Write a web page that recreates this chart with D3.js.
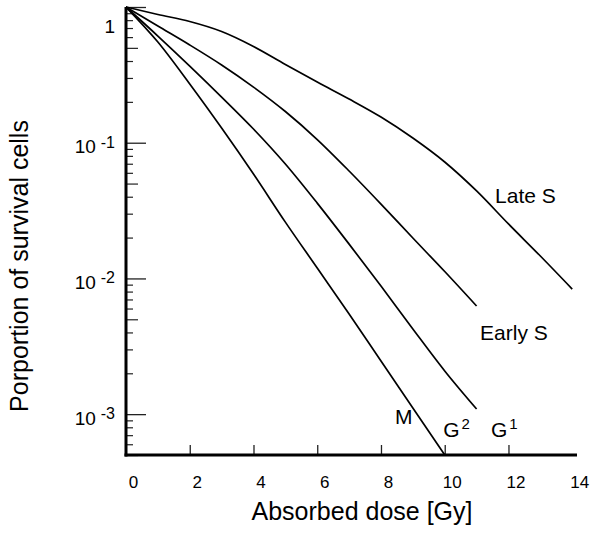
<!DOCTYPE html>
<html>
<head>
<meta charset="utf-8">
<script src="https://cdn.jsdelivr.net/npm/d3@7"></script>
<style>
  body { margin: 0; background: #fff; }
  svg { display: block; font-family: "Liberation Sans", Arial, sans-serif; }
</style>
</head>
<body>
<div id="chart"></div>
<script>
// dose values (Gy) and surviving fractions
var doses = [0, 1, 2, 3, 4, 5, 6, 7, 8, 9, 10, 11, 12, 13, 14];
var survLateS  = [1, 0.881, 0.782, 0.660, 0.512, 0.377, 0.280, 0.210, 0.1547, 0.1083, 0.0721, 0.0441, 0.0252, 0.01463, 0.00835];
var survEarlyS = [1, 0.724, 0.525, 0.374, 0.257, 0.1698, 0.1056, 0.0619, 0.0353, 0.01985, 0.01124, 0.00626];
var survG2     = [1, 0.611, 0.367, 0.217, 0.1262, 0.0697, 0.0359, 0.0179, 0.00879, 0.00424, 0.00208, 0.00109];
var survM      = [1, 0.552, 0.271, 0.1283, 0.0588, 0.026, 0.01193, 0.00547, 0.00246, 0.00111, 0.0005];

// curve labels (position in data units)
var labelNames = ["Late S", "Early S", "M", "G", "G"];
var labelSups  = ["", "", "", "2", "1"];
var labelDose  = [11.58, 11.11, 8.44, 9.95, 11.45];
var labelSurv  = [0.036, 0.00352, 0.000845, 0.000678, 0.000678];

// axis ticks
var xTickMarks  = [2, 4, 6, 8, 10, 12];
var xTickLabels = [0, 2, 4, 6, 8, 10, 12, 14];
var yMajorTicks = [1, 0.1, 0.01, 0.001];
var yTickBase   = ["1", "10", "10", "10"];
var yTickExp    = ["", "-1", "-2", "-3"];

var width = 590, height = 537;
var svg = d3.select("#chart").append("svg")
    .attr("width", width)
    .attr("height", height);

var x = d3.scaleLinear().domain([0, 14.15]).range([126, 577]);
var y = d3.scaleLog().domain([0.0005, 1]).range([455, 7]);

// y axis: minor, medium (5s) and major ticks all point inward
function mantissa(v) {
  return Math.round(v / Math.pow(10, Math.floor(Math.log10(v) + 1e-9)));
}
var allY = y.ticks();
var minorY = allY.filter(function(v) { return mantissa(v) !== 1 && mantissa(v) !== 5; });
var fiveY = allY.filter(function(v) { return mantissa(v) === 5; });

function styleTicks(g, w) {
  g.selectAll(".tick line").attr("stroke", "#222").attr("stroke-width", w);
  g.select(".domain").remove();
}

svg.append("g")
    .attr("transform", "translate(126,0)")
    .call(d3.axisLeft(y).tickValues(minorY).tickSize(-7).tickFormat(""))
    .call(styleTicks, 1.2);

svg.append("g")
    .attr("transform", "translate(126,0)")
    .call(d3.axisLeft(y).tickValues(fiveY).tickSize(-12).tickFormat(""))
    .call(styleTicks, 1.2);

var yMajor = svg.append("g")
    .attr("transform", "translate(126,0)")
    .call(d3.axisLeft(y).tickValues(yMajorTicks).tickSize(-20).tickPadding(11).tickFormat(""))
    .call(styleTicks, 1.3);

// power-of-ten labels with superscript exponent
yMajor.selectAll(".tick text").each(function(d, i) {
  var t = d3.select(this)
      .attr("fill", "#000")
      .attr("font-size", 19)
      .attr("dy", null)
      .attr("y", 10);
  t.append("tspan").text(yTickBase[i]);
  if (yTickExp[i]) {
    t.append("tspan")
      .attr("dx", 5)
      .attr("dy", -5.5)
      .attr("font-size", 16)
      .text(yTickExp[i]);
  }
});
// "1" sits at the top edge: drop it below the axis end as in the original
yMajor.selectAll(".tick text").filter(function(d, i) { return !yTickExp[i]; })
    .attr("y", 25);

// x axis: tick marks pointing up, labels below
svg.append("g")
    .attr("transform", "translate(0,455)")
    .call(d3.axisBottom(x).tickValues(xTickMarks).tickSize(-10).tickFormat(""))
    .call(styleTicks, 1.3);

svg.append("g")
    .attr("transform", "translate(0,455)")
    .call(d3.axisBottom(x).tickValues(xTickLabels).tickSize(0).tickPadding(21).tickFormat(d3.format("d")))
    .call(function(g) {
      g.select(".domain").remove();
      g.selectAll(".tick text")
        .attr("fill", "#000")
        .attr("font-size", 17)
        .attr("dx", 7);
    });

// heavy axis lines
svg.append("line")
    .attr("x1", x(0)).attr("x2", x(0))
    .attr("y1", y.range()[0] + 1.5).attr("y2", y.range()[1])
    .attr("stroke", "#000").attr("stroke-width", 3);
svg.append("line")
    .attr("x1", x(0) - 1.5).attr("x2", x.range()[1])
    .attr("y1", y.range()[0]).attr("y2", y.range()[0])
    .attr("stroke", "#000").attr("stroke-width", 3);

// survival curves
var line = d3.line()
    .x(function(d) { return x(d[0]); })
    .y(function(d) { return y(d[1]); })
    .curve(d3.curveMonotoneX);

var series = [survLateS, survEarlyS, survG2, survM];
svg.append("g").selectAll("path")
  .data(series)
  .join("path")
    .attr("fill", "none")
    .attr("stroke", "#000")
    .attr("stroke-width", 1.7)
    .attr("d", function(s) { return line(d3.zip(doses.slice(0, s.length), s)); });

// curve labels
labelNames.forEach(function(name, i) {
  var t = svg.append("text")
      .attr("x", x(labelDose[i]))
      .attr("y", y(labelSurv[i]))
      .attr("font-size", 21)
      .attr("fill", "#000")
      .text(name);
  if (labelSups[i]) {
    t.append("tspan")
      .attr("dx", 2)
      .attr("dy", -8)
      .attr("font-size", 15)
      .text(labelSups[i]);
  }
});

// axis titles
svg.append("text")
    .attr("x", 362)
    .attr("y", 520)
    .attr("text-anchor", "middle")
    .attr("font-size", 25)
    .attr("fill", "#000")
    .text("Absorbed dose [Gy]");

svg.append("text")
    .attr("transform", "translate(28,266) rotate(-90)")
    .attr("text-anchor", "middle")
    .attr("font-size", 25)
    .attr("fill", "#000")
    .text("Porportion of survival cells");
</script>
</body>
</html>
